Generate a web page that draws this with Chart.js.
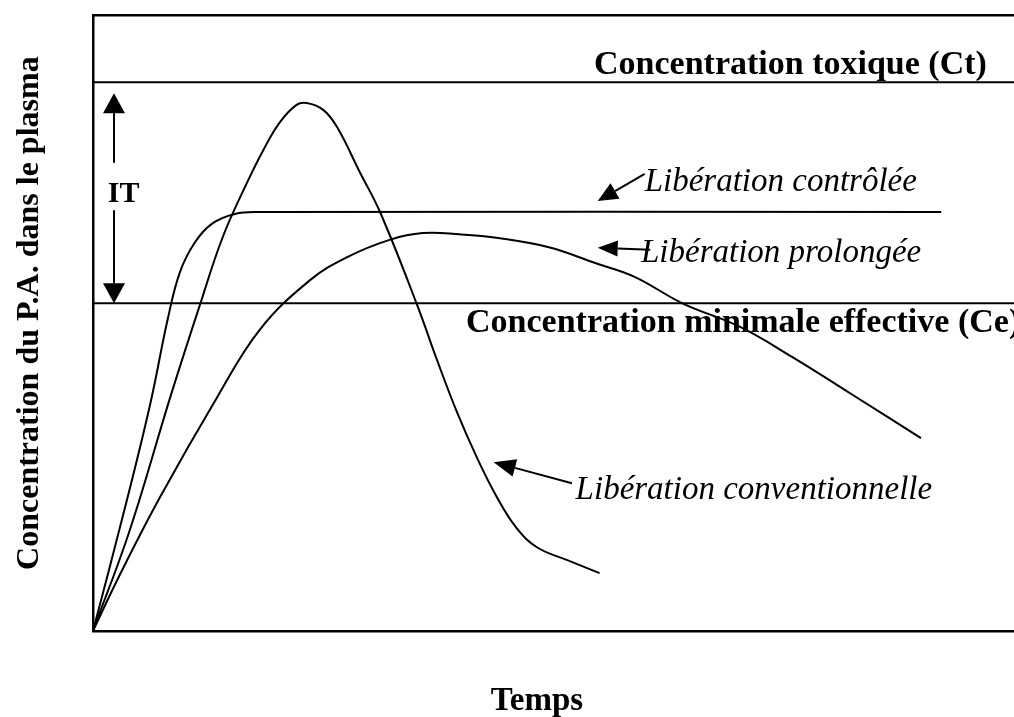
<!DOCTYPE html>
<html lang="fr">
<head>
<meta charset="utf-8">
<title>Concentration du P.A. dans le plasma</title>
<script src="https://cdn.jsdelivr.net/npm/chart.js@4/dist/chart.umd.min.js"></script>
<style>
    html, body { margin: 0; padding: 0; background: #fff; overflow: hidden; }
    #wrap { width: 1014px; height: 717px; }
</style>
</head>
<body>
<div id="wrap"><canvas id="plasmaChart" width="1014" height="717"></canvas></div>
<script>
// time axis (arbitrary units 0..100) and concentration (0..100)
const conventionalTime = [0, 4.0, 8.4, 11.6, 14.1, 16.7, 18.5, 20.3, 22.1, 23.2, 25.0, 26.5, 29.0, 31.2, 35.2, 37.35, 39.5, 41.7, 43.9, 46.0, 48.2, 51.5, 55.0];
const conventionalConc = [0, 16.4, 38.0, 52.9, 64.0, 72.7, 78.1, 82.6, 85.4, 85.7, 84.6, 81.8, 74.4, 67.9, 52.9, 44.0, 35.6, 28.1, 21.6, 16.7, 13.6, 11.5, 9.4];

const controlledTime = [0, 3.47, 6.19, 8.14, 9.45, 11.07, 12.9, 15.4, 18.1, 92.1];
const controlledConc = [0, 20.0, 36.7, 50.8, 58.3, 63.1, 66.1, 67.7, 68.0, 68.0];

const prolongedTime = [0, 2.9, 7.3, 13.5, 18.1, 23.6, 27.6, 32.2, 35.8, 39.8, 44.0, 49.5, 54.6, 58.8, 64.0, 70.2, 75.9, 82.2, 89.9];
const prolongedConc = [0, 9.1, 21.8, 38.0, 48.9, 57.0, 60.7, 63.5, 64.6, 64.4, 63.8, 62.3, 59.7, 57.5, 53.2, 49.4, 44.5, 38.6, 31.3];

const limitTime = [0, 100];
const toxicLevel = 89.1;      // Ct
const effectiveLevel = 53.2;  // Ce

const toPoints = (xs, ys) => xs.map((x, i) => ({ x, y: ys[i] }));

const serif = '"Liberation Serif", "Times New Roman", serif';

// texts and arrows, placed in data units
const labels = [
    { text: "Concentration toxique (Ct)", x: 54.4, y: 90.4, font: `bold 34px ${serif}` },
    { text: "Concentration minimale effective (Ce)", x: 40.5, y: 48.5, font: `bold 34px ${serif}` },
    { text: "IT", x: 1.6, y: 69.6, font: `bold 30px ${serif}` },
    { text: "Libération contrôlée", x: 59.9, y: 71.4, font: `italic 33px ${serif}` },
    { text: "Libération prolongée", x: 59.5, y: 59.9, font: `italic 33px ${serif}` },
    { text: "Libération conventionnelle", x: 52.4, y: 21.4, font: `italic 33px ${serif}` },
    { text: "Temps", x: 48.2, y: -12.8, font: `bold 33px ${serif}`, align: "center" },
    { text: "Concentration du P.A. dans le plasma", x: -6.0, y: 51.6, font: `bold 32px ${serif}`, align: "center", rotate: true },
];

const arrows = [
    { from: [59.9, 74.2], to: [54.8, 69.8], head: 20, half: 9 },
    { from: [60.5, 61.9], to: [54.8, 62.2], head: 20, half: 8 },
    { from: [52.0, 24.0], to: [43.5, 27.4], head: 22, half: 9 },
    { from: [2.28, 76.0], to: [2.28, 87.3], head: 20, half: 11 },
    { from: [2.28, 68.3], to: [2.28, effectiveLevel], head: 20, half: 11 },
];

const annotationPlugin = {
    id: "annotations",
    afterDraw(chart) {
        const { ctx, scales } = chart;
        const px = (x) => scales.x.getPixelForValue(x);
        const py = (y) => scales.y.getPixelForValue(y);
        ctx.save();
        ctx.fillStyle = "#000";
        ctx.strokeStyle = "#000";

        labels.forEach((item) => {
            ctx.save();
            ctx.font = item.font;
            ctx.textAlign = item.align || "left";
            ctx.textBaseline = "alphabetic";
            ctx.translate(px(item.x), py(item.y));
            if (item.rotate) ctx.rotate(-Math.PI / 2);
            ctx.fillText(item.text, 0, 0);
            ctx.restore();
        });

        arrows.forEach((a) => {
            const x1 = px(a.from[0]), y1 = py(a.from[1]);
            const x2 = px(a.to[0]), y2 = py(a.to[1]);
            const ang = Math.atan2(y2 - y1, x2 - x1);
            const bx = x2 - Math.cos(ang) * a.head;
            const by = y2 - Math.sin(ang) * a.head;
            ctx.lineWidth = 2;
            ctx.beginPath();
            ctx.moveTo(x1, y1);
            ctx.lineTo(bx, by);
            ctx.stroke();
            ctx.beginPath();
            ctx.moveTo(x2, y2);
            ctx.lineTo(bx + Math.sin(ang) * a.half, by - Math.cos(ang) * a.half);
            ctx.lineTo(bx - Math.sin(ang) * a.half, by + Math.cos(ang) * a.half);
            ctx.closePath();
            ctx.fill();
        });
        ctx.restore();
    },
};

const curve = (label, data, width) => ({
    label,
    data,
    borderColor: "#000",
    borderWidth: width,
    pointRadius: 0,
    fill: false,
    tension: 0.4,
});

const frameAxis = (position) => ({
    type: "linear",
    position,
    min: 0,
    max: 100,
    grid: { display: false, drawTicks: false },
    ticks: { display: false },
    border: { display: true, color: "#000", width: 2.5 },
});

new Chart(document.getElementById("plasmaChart"), {
    type: "line",
    data: {
        datasets: [
            curve("Libération conventionnelle", toPoints(conventionalTime, conventionalConc), 2),
            curve("Libération contrôlée", toPoints(controlledTime, controlledConc), 2),
            curve("Libération prolongée", toPoints(prolongedTime, prolongedConc), 2),
            { ...curve("Ct", toPoints(limitTime, limitTime.map(() => toxicLevel)), 2), tension: 0 },
            { ...curve("Ce", toPoints(limitTime, limitTime.map(() => effectiveLevel)), 2), tension: 0 },
        ],
    },
    options: {
        responsive: false,
        animation: false,
        layout: { padding: { left: 93, top: 15, right: 0, bottom: 86 } },
        plugins: { legend: { display: false }, tooltip: { enabled: false } },
        scales: {
            x: frameAxis("bottom"),
            xTop: { ...frameAxis("top"), axis: "x" },
            y: frameAxis("left"),
        },
    },
    plugins: [annotationPlugin],
});
</script>
</body>
</html>
